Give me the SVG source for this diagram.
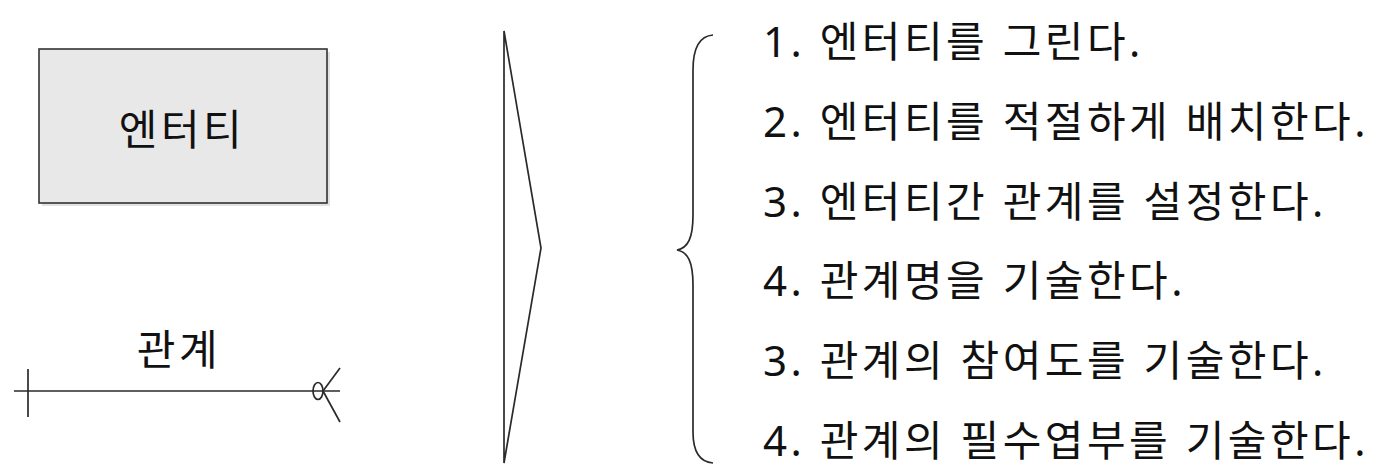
<svg xmlns="http://www.w3.org/2000/svg" width="1378" height="472" viewBox="0 0 1378 472">
<style>
.t{font-family:"Noto Sans","Noto Sans CJK KR",sans-serif;font-size:42px;fill:#111;letter-spacing:3.5px}
.s{fill:none;stroke:#2a2a2a;stroke-width:1.7}
</style>
<rect width="1378" height="472" fill="#fff"/>
<g id="entity">
<rect x="42" y="52" width="288" height="154" fill="#cfcfcf" opacity="0.6"/>
<rect x="39" y="49" width="288" height="154" fill="#e8e8e8" stroke="#333" stroke-width="1.6"/>
<text class="t" x="182" y="145" text-anchor="middle">엔터티</text>
</g>
<g id="relation">
<text class="t" x="179" y="365" text-anchor="middle">관계</text>
</g>
<g id="connectors">
<line class="s" x1="14" y1="391" x2="340" y2="391"/>
<line class="s" x1="28" y1="369" x2="28" y2="417"/>
<ellipse class="s" cx="318" cy="391" rx="5" ry="8.5"/>
<line class="s" x1="323" y1="391" x2="340" y2="368"/>
<line class="s" x1="323" y1="391" x2="340" y2="422"/>
</g>
<g id="arrow">
<path class="s" d="M504,31 L504,463 L541,248 Z" stroke-linejoin="miter"/>
</g>
<g id="brace">
<path class="s" d="M713,35 C700,36 693,48 693,70 L693,215 C693,238 688,248 677,250 C688,252 693,262 693,285 L693,432 C693,452 700,462 713,463"/>
</g>
<g id="steps">
<text class="t" x="763" y="57">1. 엔터티를 그린다.</text>
<text class="t" x="763" y="137">2. 엔터티를 적절하게 배치한다.</text>
<text class="t" x="763" y="217">3. 엔터티간 관계를 설정한다.</text>
<text class="t" x="763" y="296">4. 관계명을 기술한다.</text>
<text class="t" x="763" y="376">3. 관계의 참여도를 기술한다.</text>
<text class="t" x="763" y="456">4. 관계의 필수엽부를 기술한다.</text>
</g>
</svg>
